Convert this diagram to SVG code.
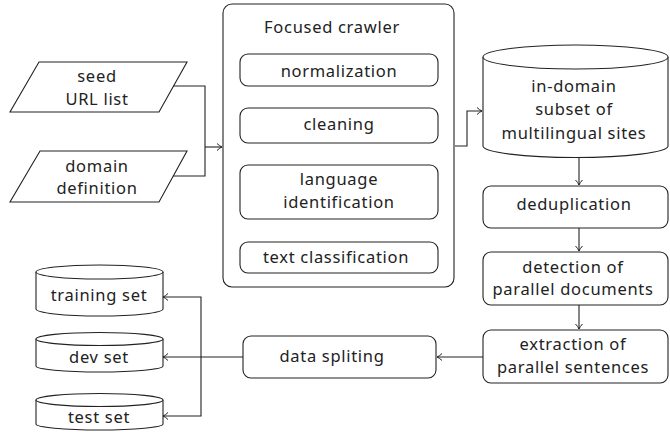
<svg xmlns="http://www.w3.org/2000/svg" width="670" height="432" viewBox="0 0 670 432">
<defs>
<marker id="arr" markerWidth="10" markerHeight="10" refX="7" refY="5" orient="auto" markerUnits="userSpaceOnUse">
<path d="M2,1.5 Q4.5,4 7,5 Q4.5,6 2,8.5" fill="none" stroke="#222" stroke-width="1"/>
</marker>
</defs>
<style>
text{font-family:'Noto Sans','Liberation Sans',sans-serif;font-size:16.5px;fill:#222;text-anchor:middle;letter-spacing:0.7px}
.s{fill:#fff;stroke:#222;stroke-width:1.1}
.c{fill:none;stroke:#222;stroke-width:1.1}
.a{fill:none;stroke:#222;stroke-width:1.1;marker-end:url(#arr)}
</style>
<rect width="670" height="432" fill="#fff"/>
<g id="connectors">
<polyline class="c" points="173,86 205,86 205,176 173,176"/>
<line class="a" x1="205" y1="147" x2="222" y2="147"/>
<polyline class="a" points="455,146 467,146 467,111 482,111"/>
<line class="a" x1="579" y1="157" x2="579" y2="185"/>
<line class="a" x1="579" y1="228" x2="579" y2="251"/>
<line class="a" x1="579" y1="305" x2="579" y2="329"/>
<line class="a" x1="483" y1="357" x2="437" y2="357"/>
<line class="a" x1="243" y1="357" x2="163" y2="357"/>
<polyline class="a" points="201,357 201,297 163,297"/>
<polyline class="a" points="201,357 201,416 163,416"/>
</g>
<g id="seed">
<polygon class="s" points="39,62 187,62 159,112 10,112"/>
<text x="97" y="82">seed</text>
<text x="97" y="105">URL list</text>
</g>
<g id="domain">
<polygon class="s" points="40,151 187,151 159,202 10,202"/>
<text x="97" y="172">domain</text>
<text x="97" y="194">definition</text>
</g>
<g id="crawler">
<rect class="s" x="223" y="4" width="231" height="283" rx="9"/>
<text x="332" y="33">Focused crawler</text>
</g>
<g id="normalization">
<rect class="s" x="240" y="54" width="198" height="32" rx="8"/>
<text x="339" y="77">normalization</text>
</g>
<g id="cleaning">
<rect class="s" x="240" y="108" width="198" height="35" rx="8"/>
<text x="339" y="130">cleaning</text>
</g>
<g id="langid">
<rect class="s" x="240" y="165" width="198" height="54" rx="8"/>
<text x="339" y="185">language</text>
<text x="339" y="208">identification</text>
</g>
<g id="textclass">
<rect class="s" x="240" y="242" width="198" height="31" rx="8"/>
<text x="336" y="263">text classification</text>
</g>
<g id="subset">
<path class="s" d="M483,57 L483,146 A92.5,11.5 0 0 0 668,146 L668,57"/>
<ellipse class="s" cx="575.5" cy="57" rx="92.5" ry="12"/>
<text x="574" y="92">in-domain</text>
<text x="574" y="115">subset of</text>
<text x="574" y="139">multilingual sites</text>
</g>
<g id="dedup">
<rect class="s" x="483" y="186" width="185" height="42" rx="8"/>
<text x="574" y="210">deduplication</text>
</g>
<g id="detection">
<rect class="s" x="483" y="252" width="185" height="53" rx="8"/>
<text x="573" y="273">detection of</text>
<text x="573" y="295">parallel documents</text>
</g>
<g id="extraction">
<rect class="s" x="483" y="330" width="185" height="53" rx="8"/>
<text x="573" y="350">extraction of</text>
<text x="573" y="373">parallel sentences</text>
</g>
<g id="split">
<rect class="s" x="243" y="336" width="193" height="42" rx="8"/>
<text x="332" y="362">data spliting</text>
</g>
<g id="training">
<path class="s" d="M36,272 L36,309 A63.5,7 0 0 0 163,309 L163,272"/>
<ellipse class="s" cx="99.5" cy="272" rx="63.5" ry="7"/>
<text x="99" y="301">training set</text>
</g>
<g id="dev">
<path class="s" d="M36,339 L36,366 A63.5,6 0 0 0 163,366 L163,339"/>
<ellipse class="s" cx="99.5" cy="339" rx="63.5" ry="6.5"/>
<text x="99" y="363">dev set</text>
</g>
<g id="test">
<path class="s" d="M36,400 L36,424 A63.5,6 0 0 0 163,424 L163,400"/>
<ellipse class="s" cx="99.5" cy="400" rx="63.5" ry="6.5"/>
<text x="99" y="423">test set</text>
</g>
</svg>
